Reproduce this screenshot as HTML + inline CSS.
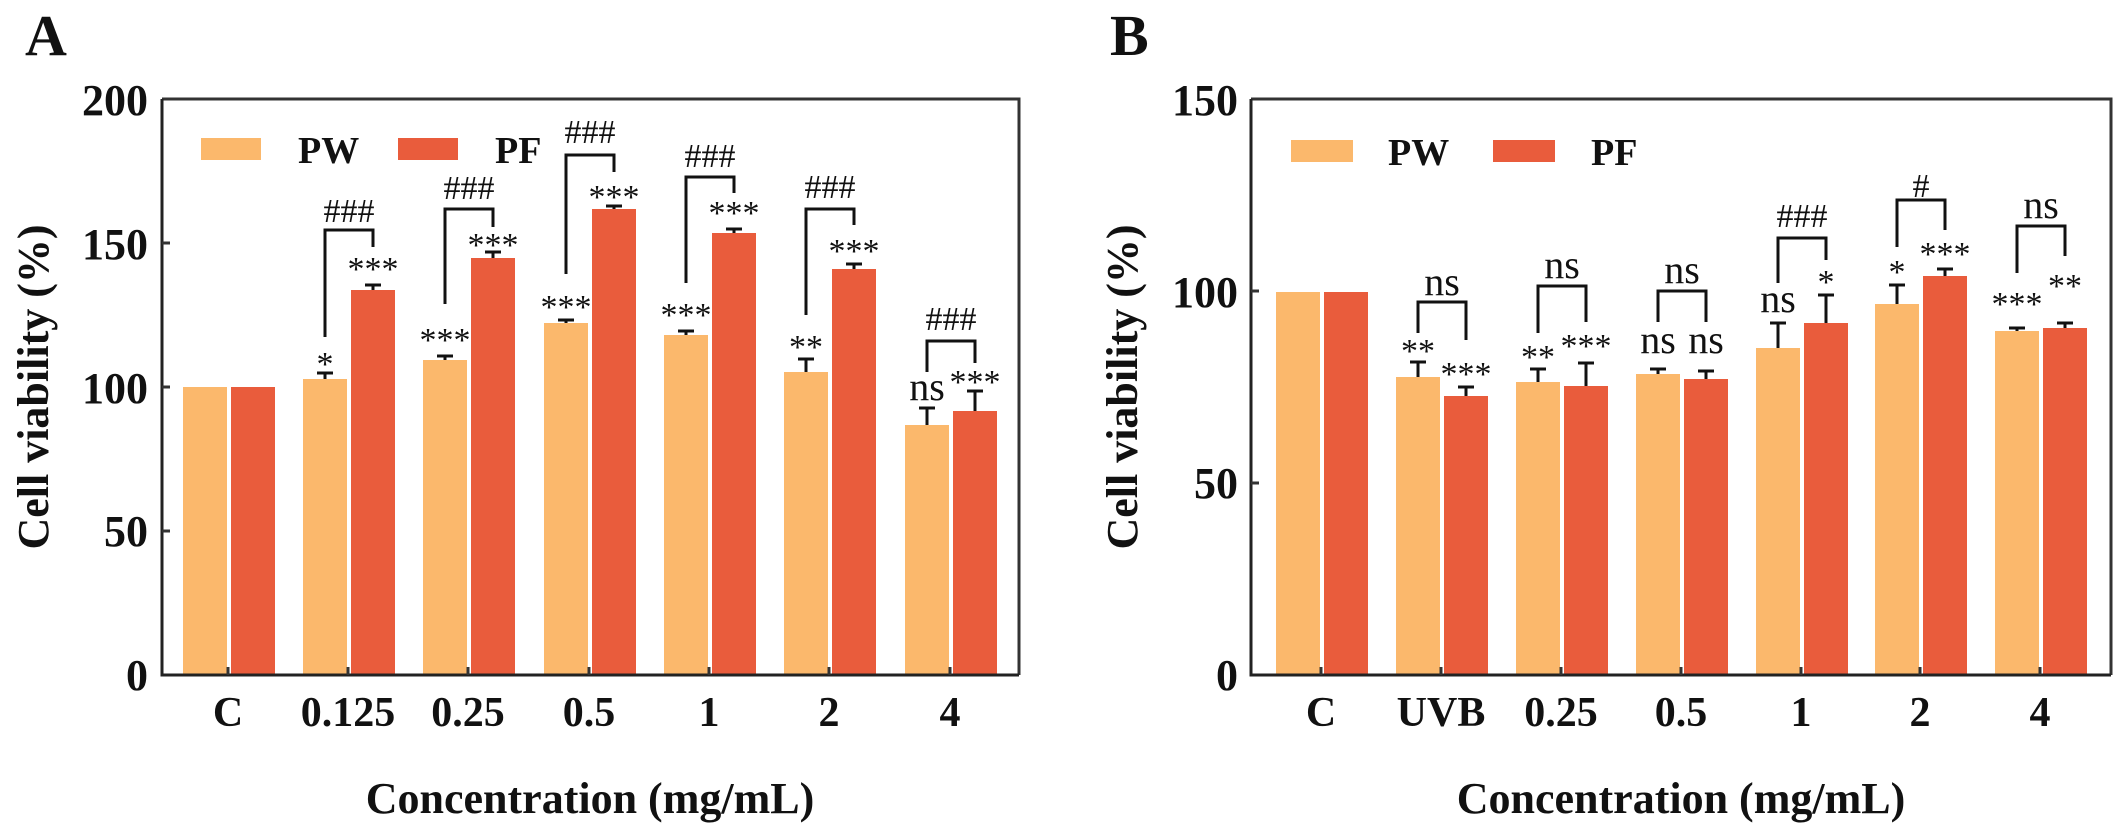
<!DOCTYPE html>
<html><head><meta charset="utf-8"><style>
html,body{margin:0;padding:0;background:#fff;}
svg{display:block;}
text{font-family:"Liberation Serif","DejaVu Serif",serif;fill:#111;}
.b{font-weight:bold;}
.tk{font-size:44px;font-weight:bold;text-anchor:end;}
.xl{font-size:42px;font-weight:bold;text-anchor:middle;}
.st{font-size:34px;text-anchor:middle;}
.ns{font-size:40px;text-anchor:middle;}
.hs{font-size:34px;text-anchor:middle;}
.lg{font-size:38px;font-weight:bold;}
</style></head><body>
<svg width="2125" height="838" viewBox="0 0 2125 838" xmlns="http://www.w3.org/2000/svg">
<g fill="none" stroke="#222" stroke-width="3">
</g>
<!-- Panel A -->
<text x="25" y="55" class="b" style="font-size:58px">A</text>
<text transform="translate(48,387) rotate(-90)" class="b" style="font-size:44px" text-anchor="middle">Cell viability (%)</text>
<text x="590" y="813" class="b" style="font-size:44px" text-anchor="middle">Concentration (mg/mL)</text>
<g class="tk">
<text x="148" y="115" class="tk">200</text>
<text x="148" y="259" class="tk">150</text>
<text x="148" y="403" class="tk">100</text>
<text x="148" y="546" class="tk">50</text>
<text x="148" y="690" class="tk">0</text>
</g>
<g>
<text x="228" y="726" class="xl">C</text>
<text x="348" y="726" class="xl">0.125</text>
<text x="468" y="726" class="xl">0.25</text>
<text x="589" y="726" class="xl">0.5</text>
<text x="709" y="726" class="xl">1</text>
<text x="829" y="726" class="xl">2</text>
<text x="950" y="726" class="xl">4</text>
</g>
<!-- bars A -->
<g fill="#FBB86C">
<rect x="183" y="387" width="44" height="288"/>
<rect x="303" y="379" width="44" height="296"/>
<rect x="423" y="360" width="44" height="315"/>
<rect x="544" y="323" width="44" height="352"/>
<rect x="664" y="335" width="44" height="340"/>
<rect x="784" y="372" width="44" height="303"/>
<rect x="905" y="425" width="44" height="250"/>
</g>
<g fill="#E95C3C">
<rect x="231" y="387" width="44" height="288"/>
<rect x="351" y="290" width="44" height="385"/>
<rect x="471" y="258" width="44" height="417"/>
<rect x="592" y="209" width="44" height="466"/>
<rect x="712" y="233" width="44" height="442"/>
<rect x="832" y="269" width="44" height="406"/>
<rect x="953" y="411" width="44" height="264"/>
</g>
<g stroke="#111" stroke-width="3" fill="none">
<path d="M325 379V373M317 373H333"/>
<path d="M373 290V285M365 285H381"/>
<path d="M445 360V356M437 356H453"/>
<path d="M493 258V252M485 252H501"/>
<path d="M566 323V320M558 320H574"/>
<path d="M614 209V206M606 206H622"/>
<path d="M686 335V331M678 331H694"/>
<path d="M734 233V229M726 229H742"/>
<path d="M806 372V359M798 359H814"/>
<path d="M854 269V264M846 264H862"/>
<path d="M927 425V408M919 408H935"/>
<path d="M975 411V391M967 391H983"/>
<!-- brackets -->
<path d="M325 337V230H373V247"/>
<path d="M445 304V209H493V227"/>
<path d="M566 274V155H614V172"/>
<path d="M686 283V177H734V193"/>
<path d="M806 315V209H854V225"/>
<path d="M927 372V341H975V363"/>
</g>
<g>
<text x="325" y="375" class="st">*</text>
<text x="373" y="280" class="st">***</text>
<text x="349" y="222" class="hs">###</text>
<text x="445" y="351" class="st">***</text>
<text x="493" y="256" class="st">***</text>
<text x="469" y="199" class="hs">###</text>
<text x="566" y="318" class="st">***</text>
<text x="614" y="208" class="st">***</text>
<text x="590" y="143" class="hs">###</text>
<text x="686" y="326" class="st">***</text>
<text x="734" y="224" class="st">***</text>
<text x="710" y="167" class="hs">###</text>
<text x="806" y="358" class="st">**</text>
<text x="854" y="262" class="st">***</text>
<text x="830" y="198" class="hs">###</text>
<text x="927" y="400" class="ns">ns</text>
<text x="975" y="393" class="st">***</text>
<text x="951" y="330" class="hs">###</text>
</g>
<!-- legend A -->
<rect x="201" y="138" width="60" height="22" fill="#FBB86C"/>
<text x="298" y="163" class="lg">PW</text>
<rect x="398" y="138" width="60" height="22" fill="#E95C3C"/>
<text x="495" y="163" class="lg">PF</text>
<!-- axes A -->
<g stroke="#333" stroke-width="3" fill="none">
<path d="M162 99H1019V675"/>
<path d="M162 99V675H1019" stroke="#222"/>
<path d="M162 243H170M162 387H170M162 531H170"/>
<path d="M228 675V667M348 675V667M468 675V667M589 675V667M709 675V667M829 675V667M950 675V667"/>
</g>

<!-- Panel B -->
<text x="1110" y="55" class="b" style="font-size:58px">B</text>
<text transform="translate(1137,387) rotate(-90)" class="b" style="font-size:44px" text-anchor="middle">Cell viability (%)</text>
<text x="1681" y="813" class="b" style="font-size:44px" text-anchor="middle">Concentration (mg/mL)</text>
<text x="1238" y="115" class="tk">150</text>
<text x="1238" y="307" class="tk">100</text>
<text x="1238" y="498" class="tk">50</text>
<text x="1238" y="690" class="tk">0</text>
<text x="1321" y="726" class="xl">C</text>
<text x="1441" y="726" class="xl">UVB</text>
<text x="1561" y="726" class="xl">0.25</text>
<text x="1681" y="726" class="xl">0.5</text>
<text x="1801" y="726" class="xl">1</text>
<text x="1920" y="726" class="xl">2</text>
<text x="2040" y="726" class="xl">4</text>
<g fill="#FBB86C">
<rect x="1276" y="292" width="44" height="383"/>
<rect x="1396" y="377" width="44" height="298"/>
<rect x="1516" y="382" width="44" height="293"/>
<rect x="1636" y="374" width="44" height="301"/>
<rect x="1756" y="348" width="44" height="327"/>
<rect x="1875" y="304" width="44" height="371"/>
<rect x="1995" y="331" width="44" height="344"/>
</g>
<g fill="#E95C3C">
<rect x="1324" y="292" width="44" height="383"/>
<rect x="1444" y="396" width="44" height="279"/>
<rect x="1564" y="386" width="44" height="289"/>
<rect x="1684" y="379" width="44" height="296"/>
<rect x="1804" y="323" width="44" height="352"/>
<rect x="1923" y="276" width="44" height="399"/>
<rect x="2043" y="328" width="44" height="347"/>
</g>
<g stroke="#111" stroke-width="3" fill="none">
<path d="M1418 377V362M1410 362H1426"/>
<path d="M1466 396V387M1458 387H1474"/>
<path d="M1538 382V369M1530 369H1546"/>
<path d="M1586 386V363M1578 363H1594"/>
<path d="M1658 374V369M1650 369H1666"/>
<path d="M1706 379V371M1698 371H1714"/>
<path d="M1778 348V323M1770 323H1786"/>
<path d="M1826 323V295M1818 295H1834"/>
<path d="M1897 304V285M1889 285H1905"/>
<path d="M1945 276V269M1937 269H1953"/>
<path d="M2017 331V328M2009 328H2025"/>
<path d="M2065 328V323M2057 323H2073"/>
<path d="M1418 333V302H1466V340"/>
<path d="M1538 333V286H1586V322"/>
<path d="M1658 322V291H1706V322"/>
<path d="M1778 283V238H1826V260"/>
<path d="M1897 247V200H1945V230"/>
<path d="M2017 273V226H2065V256"/>
</g>
<g>
<text x="1418" y="362" class="st">**</text>
<text x="1466" y="385" class="st">***</text>
<text x="1442" y="295" class="ns">ns</text>
<text x="1538" y="368" class="st">**</text>
<text x="1586" y="357" class="st">***</text>
<text x="1562" y="278" class="ns">ns</text>
<text x="1658" y="353" class="ns">ns</text>
<text x="1706" y="353" class="ns">ns</text>
<text x="1682" y="283" class="ns">ns</text>
<text x="1778" y="312" class="ns">ns</text>
<text x="1826" y="293" class="st">*</text>
<text x="1802" y="227" class="hs">###</text>
<text x="1897" y="283" class="st">*</text>
<text x="1945" y="265" class="st">***</text>
<text x="1921" y="197" class="hs">#</text>
<text x="2017" y="315" class="st">***</text>
<text x="2065" y="297" class="st">**</text>
<text x="2041" y="218" class="ns">ns</text>
</g>
<rect x="1291" y="140" width="62" height="22" fill="#FBB86C"/>
<text x="1388" y="165" class="lg">PW</text>
<rect x="1493" y="140" width="62" height="22" fill="#E95C3C"/>
<text x="1591" y="165" class="lg">PF</text>
<g stroke="#333" stroke-width="3" fill="none">
<path d="M1251 99H2111V675"/>
<path d="M1251 99V675H2111" stroke="#222"/>
<path d="M1251 291H1259M1251 483H1259"/>
<path d="M1321 675V667M1441 675V667M1561 675V667M1681 675V667M1801 675V667M1920 675V667M2040 675V667"/>
</g>
</svg>
</body></html>
